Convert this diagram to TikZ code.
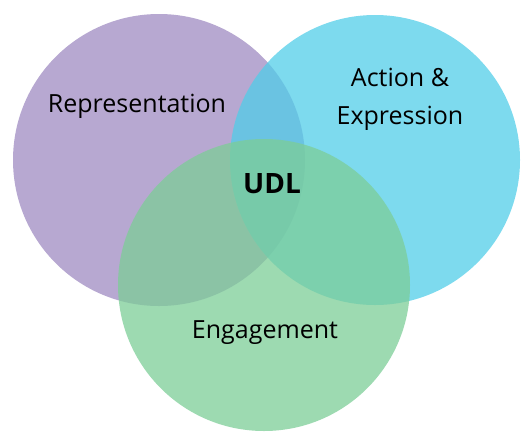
\documentclass[tikz,border=0pt]{standalone}
\usepackage{fontspec}
\setmainfont{Open Sans}
\usepackage{tikz}
\usetikzlibrary{positioning}
\definecolor{UDLlila}  {RGB}{159,139,193}
\definecolor{UDLcian}  {RGB}{ 81,205,232}
\definecolor{UDLverde} {RGB}{124,205,151}
\begin{document}
\begin{tikzpicture}[x=1pt,y=-1pt]
\useasboundingbox (0,0) rectangle (530,437);
\node[circle, fill=UDLlila, fill opacity=0.75, minimum size=292pt, inner sep=0pt] (rep) at (159,160) {};
\node[circle, fill=UDLcian, fill opacity=0.75, minimum size=290pt, inner sep=0pt] (act) at (375,160) {};
\node[circle, fill=UDLverde, fill opacity=0.75, minimum size=292pt, inner sep=0pt] (eng) at (264,285) {};
% etiquetas
\node[font=\fontsize{25}{38}\selectfont] (repT) at (137,106) {Representation};
\node[font=\fontsize{25}{38}\selectfont, align=center] (actT) at (400,99) {Action \&\\Expression};
\node[font=\fontsize{25}{38}\selectfont] (engT) at (265,333) {Engagement};
\node[font=\fontsize{28}{32}\selectfont\bfseries] (udl) at (272,184) {UDL};
\end{tikzpicture}
\end{document}
